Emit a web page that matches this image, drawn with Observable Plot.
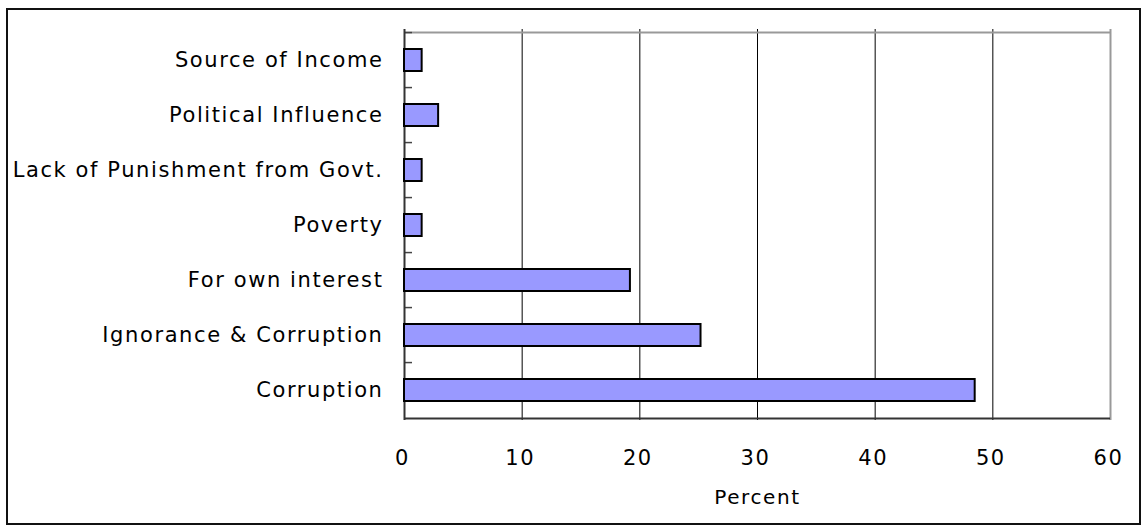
<!DOCTYPE html>
<html>
<head>
<meta charset="utf-8">
<script src="https://cdn.jsdelivr.net/npm/d3@7"></script>
<script src="https://cdn.jsdelivr.net/npm/@observablehq/plot@0.6"></script>
<style>
  html, body { margin: 0; padding: 0; background: #fff; }
  #wrap { position: relative; width: 1146px; height: 531px; }
  #border { position: absolute; left: 6px; top: 8px; width: 1135px; height: 517px; border: 2px solid #111; box-sizing: border-box; pointer-events: none; }
  svg { display: block; }
</style>
</head>
<body>
<div id="wrap"><div id="border"></div></div>
<script>
const categories = ["Source of Income", "Political Influence", "Lack of Punishment from Govt.", "Poverty", "For own interest", "Ignorance & Corruption", "Corruption"];
const values = [1.5, 2.9, 1.5, 1.5, 19.2, 25.2, 48.5];
const xTicks = [0, 10, 20, 30, 40, 50, 60];
const gridTicks = [10, 20, 30, 40, 50];
const xLabel = "Percent";

const data = categories.map((c, i) => ({category: c, value: values[i]}));

const W = 1146, H = 531;
const mTop = 29, mBottom = 111, mLeft = 404, mRight = 36;
const step = (H - mTop - mBottom) / categories.length;
const tickLen = 8 * (60 / (W - mLeft - mRight));
const font = "'DejaVu Sans', 'Noto Sans', sans-serif";

const chart = Plot.plot({
  width: W,
  height: H,
  marginTop: mTop,
  marginBottom: mBottom,
  marginLeft: mLeft,
  marginRight: mRight,
  style: {fontFamily: font, fontSize: "21px", letterSpacing: "1.6px", color: "#000", background: "transparent"},
  x: {domain: [0, 60]},
  y: {domain: categories, paddingInner: 0.6, paddingOuter: 0.3},
  marks: [
    Plot.ruleX(gridTicks, {stroke: "#000", strokeWidth: 1}),
    Plot.ruleY([categories[0]], {dy: -step / 2, x1: 0, x2: 60, stroke: "#999", strokeWidth: 2}),
    Plot.ruleX([60], {stroke: "#999", strokeWidth: 2}),
    Plot.ruleY(categories, {dy: -step / 2, x1: 0, x2: tickLen, stroke: "#444", strokeWidth: 1.5}),
    Plot.ruleY([categories[categories.length - 1]], {dy: step / 2, x1: 0, x2: 60, stroke: "#333", strokeWidth: 2}),
    Plot.ruleX([0], {stroke: "#333", strokeWidth: 2}),
    Plot.barX(data, {y: "category", x: "value", fill: "#9999ff", stroke: "#000", strokeWidth: 2}),
    Plot.axisY({tickSize: 0, tickPadding: 21, label: null, fontSize: 21}),
    Plot.axisX({ticks: xTicks, tickSize: 0, tickPadding: 30, label: null, fontSize: 21, dx: -2}),
    Plot.text([xLabel], {text: d => d, frameAnchor: "bottom", dy: 83, fontSize: 20})
  ]
});
document.getElementById("wrap").appendChild(chart);
</script>
</body>
</html>
